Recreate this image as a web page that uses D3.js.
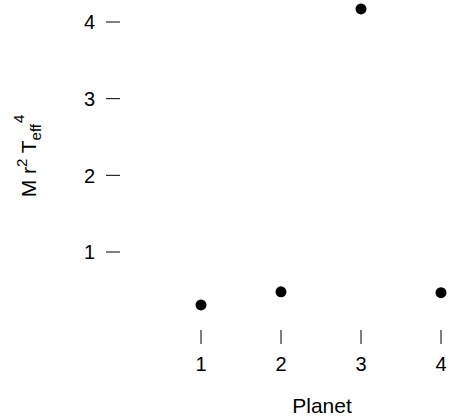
<!DOCTYPE html>
<html>
<head>
<meta charset="utf-8">
<script src="https://cdn.jsdelivr.net/npm/d3@7"></script>
<style>
  body { margin: 0; background: #fff; }
  svg text { font-family: "Liberation Sans", Arial, sans-serif; fill: #000; }
</style>
</head>
<body>
<svg width="451" height="417"></svg>
<script>
// data
var planets = [1, 2, 3, 4];
var flux    = [0.31, 0.48, 4.17, 0.47];
var yTicks  = [1, 2, 3, 4];

const svg   = d3.select("svg"),
      fsAx  = 20,   // tick labels
      fsLab = 21;   // axis titles

// 80px per planet, ~76.7px per unit
const x = d3.scaleLinear().domain([1, 4]).range([201, 441]),
      y = d3.scaleLinear().domain([1, 4]).range([252, 22]);

// y axis - R style, ticks only
const ya = svg.append("g");
yTicks.forEach(function(t){
  ya.append("line")
    .attr("x1", 106).attr("x2", 120)
    .attr("y1", y(t)).attr("y2", y(t))
    .attr("stroke", "#000").attr("stroke-width", 1);
  ya.append("text")
    .attr("x", 95).attr("y", y(t))
    .attr("dy", "0.36em")
    .attr("text-anchor", "end")
    .style("font-size", fsAx + "px")
    .text(t);
});

// x axis
const xa = svg.append("g");
planets.forEach(function(p){
  xa.append("line")
    .attr("x1", x(p)).attr("x2", x(p))
    .attr("y1", 330).attr("y2", 344)
    .attr("stroke", "#000").attr("stroke-width", 1);
  xa.append("text")
    .attr("x", x(p)).attr("y", 371)
    .attr("text-anchor", "middle")
    .style("font-size", fsAx + "px")
    .text(p);
});

// titles
svg.append("text")
  .attr("x", 322).attr("y", 413)
  .attr("text-anchor", "middle")
  .style("font-size", fsLab + "px")
  .text("Planet");

const yl = svg.append("text")
  .attr("transform", "translate(36,156) rotate(-90)")
  .attr("text-anchor", "middle")
  .style("font-size", fsLab + "px");
yl.append("tspan").text("M r");
yl.append("tspan").attr("dy", -9).style("font-size", "15px").text("2");
yl.append("tspan").attr("dy", 9).text(" T");
yl.append("tspan").attr("dy", 5).style("font-size", "15px").text("eff");
yl.append("tspan").attr("dy", -17).attr("dx", 1).style("font-size", "15px").text("4");

// points
svg.selectAll(".pt")
  .data(planets)
  .enter().append("circle")
    .attr("class", "pt")
    .attr("cx", d => x(d))
    .attr("cy", (d, i) => y(flux[i]))
    .attr("r", 5.5)
    .attr("fill", "#000");
</script>
</body>
</html>
